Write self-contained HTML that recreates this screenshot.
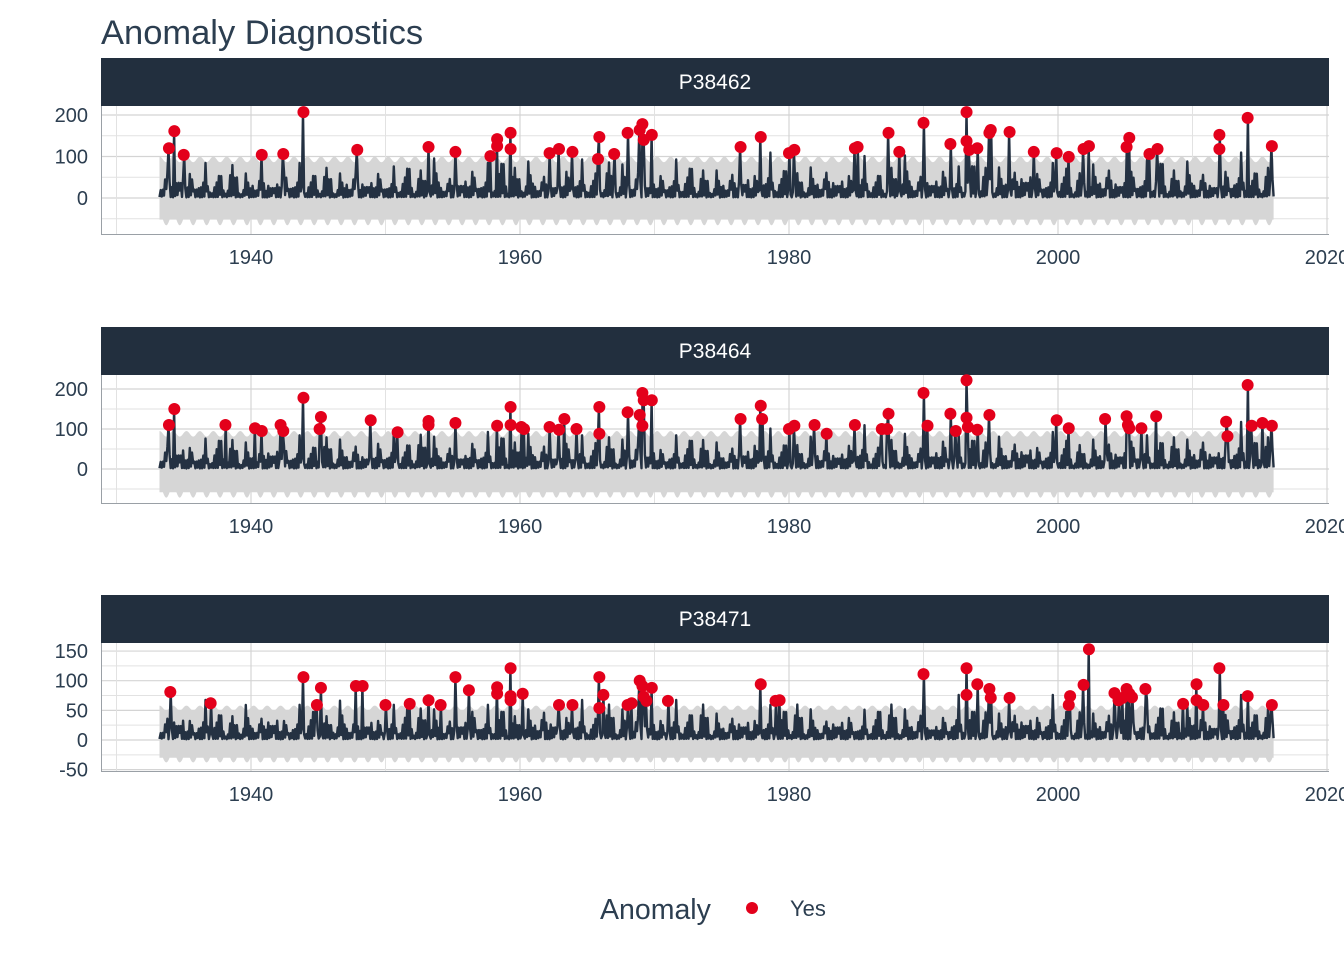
<!DOCTYPE html>
<html><head><meta charset="utf-8"><style>
body{margin:0;background:#fff;width:1344px;height:960px;overflow:hidden}
svg text{font-family:"Liberation Sans",Arial,sans-serif}
</style></head><body>
<svg id="c" width="1344" height="960" xmlns="http://www.w3.org/2000/svg">
<text x="101" y="44" font-size="34.5" fill="#2c3e50">Anomaly Diagnostics</text>
<g>
<text x="600" y="919" font-size="28.5" fill="#2c3e50">Anomaly</text>
<circle cx="752" cy="908" r="6" fill="#e3001b"/>
<text x="790" y="916" font-size="22" fill="#2c3e50">Yes</text>
</g>
</svg>
<script>
const xTicks=[1940,1960,1980,2000,2020];
const panelNames=["P38462","P38464","P38471"];
const yTicks1=[0,100,200], yTicks2=[0,100,200], yTicks3=[-50,0,50,100,150];
const peaks1=[60,70,55,50,45,60,40,55,45,60,50,45,55,40,60,50,55,45,60,50,65,45,55,60,50,70,55,60,50,45,60,55,50,65,55,60,45,50,55,60,50,45,55,60,50,65,55,45,50,60,55,50,60,45,55,70,50,55,60,45,65,55,50,60,70,55,50,60,45,55,65,50,60,55,70,50,60,55,45,60,65,50,55];
const peaks2=[55,65,50,45,60,55,45,50,60,55,50,45,60,50,55,45,60,55,50,65,55,50,45,60,55,65,50,60,55,45,60,50,55,60,50,65,55,45,50,60,55,45,50,60,55,60,50,45,55,60,50,55,65,45,55,60,50,55,65,50,60,50,55,60,65,50,55,60,45,50,60,55,65,50,55,60,50,65,55,60,70,55,60];
const peaks3=[35,45,30,40,35,30,40,35,45,30,35,40,30,45,35,40,30,35,45,40,35,30,40,45,35,40,30,35,45,40,35,40,30,45,35,40,35,30,40,35,45,30,35,40,30,35,40,45,35,30,40,35,30,40,45,35,40,30,35,45,40,35,30,40,45,35,45,40,35,30,40,45,35,40,45,35,40,45,35,40,45,35,40];
const season=[0.02,0.55,0.05,0.9,0.1,1.45,0.3,1.0,0.02,0.7,0.05,0.45];
const modulation=[1,0.55,0.9,0.35,0.8,0.5,1.15];
const bandHi=[100,95,58], bandLo=[-52,-58,-30], bandAmp=[14,14,8];
const anomYears1=[1933.9,1934.3,1935.0,1940.8,1942.4,1943.9,1947.9,1953.2,1955.2,1957.8,1958.3,1958.3,1959.3,1959.3,1962.2,1962.9,1963.9,1965.9,1965.8,1967.0,1968.0,1968.9,1969.1,1969.2,1969.8,1976.4,1977.9,1980.0,1980.4,1984.9,1985.1,1987.4,1988.2,1990.0,1992.0,1993.2,1993.2,1993.4,1994.0,1994.9,1995.0,1996.4,1998.2,1999.9,2000.8,2001.9,2002.3,2005.1,2005.3,2006.8,2007.4,2012.0,2012.0,2014.1,2015.9];
const anomVals1=[120,161,104,104,106,207,116,123,111,101,142,125,157,118,108,118,111,147,94,106,157,164,178,140,152,123,147,108,116,120,123,157,111,181,130,207,137,116,120,157,164,159,111,108,99,118,125,123,145,106,118,152,118,193,125];
const anomYears2=[1933.9,1934.3,1938.1,1940.3,1940.8,1942.2,1942.4,1943.9,1945.1,1945.2,1948.9,1950.9,1953.2,1953.2,1955.2,1958.3,1959.3,1959.3,1960.1,1960.3,1962.2,1962.9,1963.3,1964.2,1965.9,1965.9,1968.0,1968.9,1969.1,1969.1,1969.2,1969.8,1976.4,1977.9,1978.0,1980.0,1980.4,1981.9,1982.8,1984.9,1986.9,1987.3,1987.4,1990.0,1990.3,1992.0,1992.4,1993.2,1993.2,1993.3,1994.0,1994.9,1999.9,2000.8,2003.5,2005.1,2005.2,2005.3,2006.2,2007.3,2012.5,2012.6,2014.1,2014.4,2015.2,2015.9];
const anomVals2=[110,150,110,102,95,110,95,178,100,130,122,92,120,110,115,108,155,110,105,100,105,98,125,100,155,88,142,135,190,108,172,172,125,158,125,100,108,110,88,110,100,100,138,190,108,138,95,222,128,105,98,135,122,102,125,132,110,102,102,132,118,82,210,108,115,108];
const anomYears3=[1934.0,1937.0,1943.9,1944.9,1945.2,1947.8,1948.3,1950.0,1951.8,1953.2,1954.1,1955.2,1956.2,1958.3,1958.3,1959.3,1959.3,1959.3,1960.2,1962.9,1963.9,1965.9,1965.9,1966.2,1968.0,1968.3,1968.9,1969.1,1969.2,1969.4,1969.8,1971.0,1977.9,1979.0,1979.3,1990.0,1993.2,1993.2,1994.0,1994.9,1995.0,1996.4,2000.8,2000.9,2001.9,2002.3,2004.2,2004.5,2004.8,2005.1,2005.3,2005.5,2006.5,2009.3,2010.3,2010.3,2010.8,2012.0,2012.3,2014.1,2015.9];
const anomVals3=[81,62,106,59,88,91,91,59,61,67,59,106,84,89,78,121,67,74,78,59,59,106,54,76,59,62,100,91,73,66,88,66,94,66,67,111,121,76,94,86,71,71,59,74,93,153,79,67,71,86,78,72,86,61,94,67,59,121,59,74,59];

const NS="http://www.w3.org/2000/svg";
const svg=document.getElementById('c');
function mk(tag,attrs,parent){const e=document.createElementNS(NS,tag);for(const k in attrs)e.setAttribute(k,attrs[k]);(parent||svg).appendChild(e);return e;}
const X=y=>251+(y-1940)*13.45;
const panels=[
 {strip:58,top:106,bot:234,zeroY:198,scale:0.415,ticks:yTicks1,peaks:peaks1,ay:anomYears1,av:anomVals1,gridStep:50,gmin:-50,gmax:250},
 {strip:327,top:375,bot:503,zeroY:469,scale:0.4,ticks:yTicks2,peaks:peaks2,ay:anomYears2,av:anomVals2,gridStep:50,gmin:-50,gmax:250},
 {strip:595,top:643,bot:771,zeroY:740,scale:0.593,ticks:yTicks3,peaks:peaks3,ay:anomYears3,av:anomVals3,gridStep:25,gmin:-50,gmax:175}
];
panels.forEach((p,i)=>{
 const g=mk('g',{});
 
 
 const Y=v=>p.zeroY-v*p.scale;
 const s=mk('rect',{x:101,y:p.strip,width:1228,height:48,fill:'#222f3e'},g);
 
 
 const st=mk('text',{x:715,y:p.strip+31,'font-size':21,fill:'#fff','text-anchor':'middle'},g);
 st.textContent=panelNames[i];
 
 
 for(let v=p.gmin;v<=p.gmax;v+=p.gridStep){const yy=Y(v);if(yy<p.top||yy>p.bot)continue;
  const major=p.ticks.includes(v);
  const l=mk('line',{x1:101,x2:1329,y1:yy,y2:yy,stroke:major?'#d4d4d4':'#e2e2e2','stroke-width':major?1.2:1},g);
  
  }
 for(let yr=1930;yr<=2020;yr+=10){const xx=X(yr);if(xx<101)continue;
  const major=xTicks.includes(yr);
  const l=mk('line',{x1:xx,x2:xx,y1:p.top,y2:p.bot,stroke:major?'#d4d4d4':'#e2e2e2','stroke-width':major?1.2:1},g);
  
  }
 let up=[],lo=[];
 for(let m=0;m<=994;m++){const yr=1933.2+m/12;const ph=Math.cos((m%12)/12*2*Math.PI);
  up.push(X(yr).toFixed(1)+','+Y(bandHi[i]-bandAmp[i]*0.5*(1-ph)).toFixed(1));
  lo.push(X(yr).toFixed(1)+','+Y(bandLo[i]-bandAmp[i]*Math.max(0,Math.cos(((m+6)%12)/12*2*Math.PI))).toFixed(1));}
 const band=mk('polygon',{points:up.concat(lo.reverse()).join(' '),fill:'#d6d6d6'},g);
 
 
 const vals=[];
 for(let m=0;m<=994;m++){const yr=1933.2+m/12;const yi=Math.min(p.peaks.length-1,Math.floor(yr-1933));
  vals.push(1+p.peaks[yi]*season[m%12]*modulation[m%7]);}
 p.ay.forEach((a,k)=>{const m=Math.round((a-1933.2)*12);if(m>=0&&m<vals.length)vals[m]=Math.max(vals[m],p.av[k]);});
 const pts=vals.map((v,m)=>X(1933.2+m/12).toFixed(1)+','+Y(v).toFixed(1)).join(' ');
 const ln=mk('polyline',{points:pts,fill:'none',stroke:'#243142','stroke-width':2.4,'stroke-linejoin':'round'},g);
 
 
 p.ay.forEach((a,k)=>{const c=mk('circle',{cx:X(a),cy:Y(p.av[k]),r:6,fill:'#e3001b'},g);
  
  });
 const ax=mk('path',{d:`M101.5,${p.top} V${p.bot+0.5} H1329`,stroke:'#9aa0a6',fill:'none','stroke-width':1},g);
 
 
 p.ticks.forEach(v=>{const t=mk('text',{x:88,y:Y(v)+7,'font-size':20,fill:'#2c3e50','text-anchor':'end'},g);
  t.textContent=v;  });
 xTicks.forEach(yr=>{const t=mk('text',{x:X(yr),y:p.bot+30,'font-size':20,fill:'#2c3e50','text-anchor':'middle'},g);
  t.textContent=yr;  });
});
</script>
</body></html>
